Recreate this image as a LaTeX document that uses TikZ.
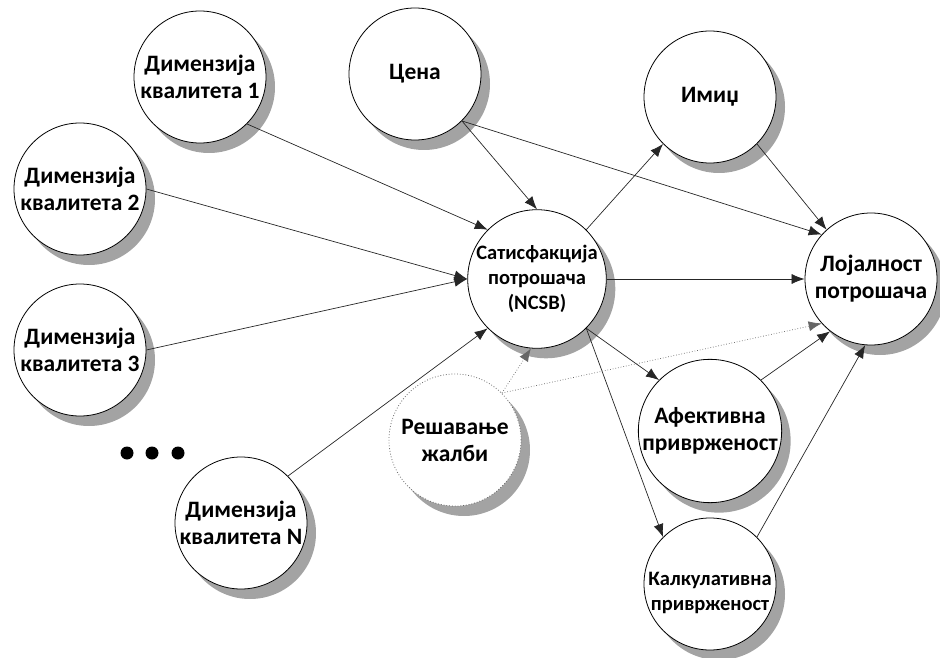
\documentclass[tikz,border=0pt]{standalone}
\usepackage{fontspec}
\setmainfont{Carlito}
\usetikzlibrary{arrows.meta,shadows}
\begin{document}
\begin{tikzpicture}[x=1pt,y=-1pt,
  construct/.style={circle,draw=black,line width=0.8pt,fill=white,
    minimum size=132pt,inner sep=0pt,align=center,
    font=\bfseries\fontsize{23.5}{27}\selectfont,
    drop shadow={shadow xshift=9pt,shadow yshift=-10pt,draw=none,
      fill=black!36,opacity=1}},
  smalltext/.style={font=\bfseries\fontsize{20.5}{25}\selectfont},
  caption/.style={smalltext,align=center,inner sep=0pt},
  optional/.style={draw=black!60,dotted,line width=0.8pt},
  link/.style={draw=black!85,line width=0.7pt,
    -{Latex[length=13pt,width=10pt]}},
  weaklink/.style={link,dotted,draw=black!60}]
\useasboundingbox (0,0) rectangle (940,658);

% constructs of the satisfaction model
\node[construct] (dim1) at (200,77) {Димензија\\квалитета 1};
\node[construct] (dim2) at (80,189) {Димензија\\квалитета 2};
\node[construct] (dim3) at (80,350) {Димензија\\квалитета 3};
\node[construct] (dimn) at (241,523) {Димензија\\квалитета N};
\node[construct] (cena) at (415,74) {\raisebox{4pt}{Цена}};
\node[construct,smalltext] (sat) at (537,279) {Сатисфакција\\потрошача\\(NCSB)};
\node[construct] (imidz) at (710,97) {Имиџ};
\node[construct] (loj) at (871,279) {Лојалност\\потрошача};
\node[construct,optional] (resh) at (455,440) {Решавање\\жалби};
\node[construct] (afek) at (710,431) {Афективна\\приврженост};
\node[construct] (kalk) at (710,584) {};
\node[caption] (kalktext) at (710,593) {Калкулативна\\приврженост};

% further quality dimensions
\foreach \x in {127,152,178} \fill (\x,453) circle (6.5pt);

% paths
\draw[link] (dim1.-45) -- (sat.135);
\draw[link] (dim2.east) -- (sat.west);
\draw[link] (dim3.east) -- (sat.west);
\draw[link] (dimn.45) -- (sat.-135);
\draw[link] (cena.-45) -- (sat.north);
\draw[link] (cena.-45) -- (loj.138);
\draw[link] (sat.45) -- (imidz.-135);
\draw[link] (imidz.-45) -- (loj.132);
\draw[link] (sat.east) -- (loj.west);
\draw[link] (sat.-45) -- (afek.135);
\draw[link] (sat.-45) -- (kalk.135);
\draw[link] (afek.45) -- (loj.-128);
\draw[link] (kalk.45) -- (loj.-95);
\draw[weaklink] (resh.45) -- (sat.-95);
\draw[weaklink] (resh.45) -- (loj.-138);
\end{tikzpicture}
\end{document}
